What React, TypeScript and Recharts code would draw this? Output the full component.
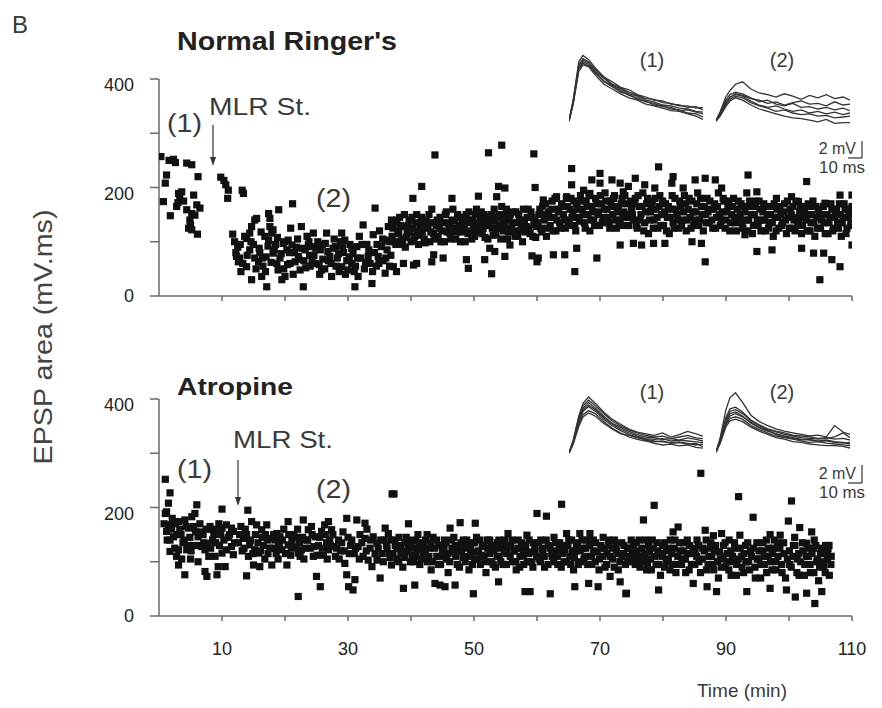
import React from 'react';
import { ScatterChart, Scatter, XAxis, YAxis, LineChart, Line } from 'recharts';

const FONT = '"Liberation Sans", Arial, Helvetica, sans-serif';

// ---------- Normal Ringer's: EPSP area (mV.ms) vs time (min), [t, v] ----------
const NR_BEFORE: number[][] = [
  [0.3,257],[0.7,174],[1.0,208],[1.2,223],[1.6,250],[1.8,148],[2.3,252],[2.6,246],[2.8,165],[3.1,189],
  [3.3,180],[3.6,192],[3.9,175],[4.4,245],[4.4,159],[4.7,125],[4.9,140],[5.2,242],[5.2,122],[5.2,152],
  [5.5,186],[5.7,149],[6.0,168],[6.1,114],[6.2,220],[6.5,162],[3.0,172],[5.0,132],
];
const NR_AFTER: number[][] = [
  [9.8,219],[10.3,213],[10.6,205],[11.0,195],[10.9,180],[13.2,195],[13.4,189],
];
const NR_DEPRESSED: number[][] = [
  [11.7,114],[12.3,73],[12.6,63],[12.8,70],[13.6,110],[13.9,106],[14.4,116],[14.7,128],[15.2,140],[13.9,54],
  [14.4,85],[15.2,70],[15.8,63],[14.7,30],[15.5,143],[16.3,36],[17.1,17],[16.8,110],[17.4,103],[17.9,116],
  [17.4,152],[17.6,143],[17.6,128],[18.1,122],[18.1,79],[18.7,60],[19.0,159],[19.5,30],[20.0,36],[19.7,97],
  [20.5,103],[21.1,94],[21.2,170],[22.6,128],[21.6,63],[22.1,73],[22.9,17],[23.2,85],[23.7,94],[24.2,91],
  [24.5,116],[24.8,60],[25.8,48],[25.6,85],[26.4,97],[26.6,116],[27.1,73],[27.4,36],[28.0,91],[29.0,116],
  [29.5,103],[29.0,54],[30.0,48],[30.6,60],[31.1,17],[31.4,91],[31.6,36],[32.4,131],[33.2,73],[33.8,23],
  [34.0,113],[34.3,162],[34.8,73],[35.3,91],[35.9,103],[35.9,42],[36.4,128],[36.9,140],
  [15.0,95],[16.0,80],[16.5,55],[17.0,72],[18.5,95],[19.2,70],[19.8,50],[20.3,85],[20.8,60],[21.5,80],
  [22.0,105],[22.4,48],[23.0,65],[23.5,110],[24.0,55],[24.6,75],[25.2,100],[25.5,40],[26.0,68],[26.8,82],
  [27.3,60],[27.8,105],[28.3,70],[28.6,45],[29.3,80],[29.8,65],[30.3,95],[30.8,78],[31.2,55],[32.0,70],
  [32.6,50],[33.0,95],[33.5,60],[34.5,55],[35.0,120],[35.6,65],[36.2,85],[36.6,55],[12.0,100],[12.5,90],
  [13.0,45],[16.2,118],[18.8,108],[20.9,125],[23.9,75],[28.8,100],[31.8,110],[34.6,95],
];
const NR_DEPRESSED_DENSE: number[][] = [
  [12.2,80],[12.9,95],[13.3,60],[14.0,75],[14.6,100],[15.4,50],[15.9,88],[16.4,70],[16.9,45],[17.3,92],
  [17.8,62],[18.3,85],[18.9,48],[19.4,78],[19.9,100],[20.4,58],[20.7,80],[21.3,40],[21.8,90],[22.2,68],
  [22.7,88],[23.3,52],[23.8,100],[24.3,66],[24.9,88],[25.4,58],[25.9,95],[26.3,50],[26.9,65],[27.6,88],
  [28.1,55],[28.5,78],[29.1,92],[29.6,40],[30.2,72],[30.6,88],[31.0,45],[31.5,70],[32.2,95],[32.8,62],
  [33.3,85],[33.9,45],[34.2,80],[34.9,60],[35.5,105],[36.0,70],[36.5,100],[36.8,75],
];
const NR_RECOVERY: number[][] = [
  [37.0,110],[37.3,135],[37.6,95],[37.9,120],[38.2,145],[38.5,105],[38.8,128],[39.1,90],[39.4,115],[39.7,140],
  [40.0,100],[40.3,125],[40.6,110],[40.9,150],[41.2,95],[41.5,132],[41.8,118],[42.1,105],[42.4,140],[42.7,125],
  [43.0,100],[43.3,160],[43.6,115],[37.2,54],[37.7,45],[38.8,60],[40.4,57],[40.9,60],[43.6,76],[45.1,70],
  [43.3,63],[41.7,202],[40.3,180],[43.8,260],
  [44.0,130],[44.3,110],[44.6,145],[44.9,120],[45.3,100],[45.6,155],[45.9,135],[46.2,115],[46.5,140],[46.8,125],
  [47.1,105],[47.4,150],[47.7,130],[48.0,118],[48.3,145],[48.6,100],[48.9,135],[49.2,155],[49.5,120],[49.8,140],
  [50.1,110],[50.4,160],[50.7,130],[51.0,145],[51.3,115],[51.6,150],[51.9,135],[52.2,105],[46.5,180],[50.7,184],
  [48.8,67],[49.1,51],[51.7,67],[52.5,88],[53.3,82],[52.8,41],[52.3,264],
  [52.6,140],[52.9,125],[53.2,160],[53.5,115],[53.8,145],[54.1,130],[54.4,165],[54.7,120],[55.0,150],[55.3,105],
  [55.6,140],[55.9,125],[56.2,155],[56.5,110],[56.8,135],[57.1,150],[57.4,120],[57.7,100],[58.0,140],[58.3,128],
  [58.6,160],[58.9,115],[59.2,145],[59.5,132],[59.8,108],[53.9,202],[54.9,199],[53.6,183],[54.4,278],[54.9,73],
  [55.7,94],[59.2,74],[60.0,63],[60.2,70],[59.5,262],[59.7,200],
];
const NR_RECOVERY_DENSE: number[][] = [
  [37.15,125],[37.45,100],[37.75,140],[38.05,115],[38.35,130],[38.65,95],[38.95,150],[39.25,108],[39.55,130],[39.85,118],
  [40.15,145],[40.45,102],[40.75,135],[41.05,120],[41.35,112],[41.65,145],[41.95,128],[42.25,98],[42.55,132],[42.85,150],
  [43.15,118],[43.45,135],[43.75,105],[44.15,140],[44.45,125],[44.75,100],[45.05,135],[45.45,150],[45.75,118],[46.05,130],
  [46.35,105],[46.65,160],[46.95,138],[47.25,118],[47.55,145],[47.85,100],[48.15,135],[48.45,125],[48.75,150],[49.05,115],
  [49.35,140],[49.65,105],[49.95,128],[50.25,150],[50.55,118],[50.85,135],[51.15,155],[51.45,125],[51.75,108],[52.05,145],
  [52.35,130],[52.75,150],[53.05,112],[53.35,138],[53.65,125],[53.95,150],[54.25,105],[54.55,140],[54.85,128],[55.15,160],
  [55.45,118],[55.75,150],[56.05,135],[56.35,120],[56.65,155],[56.95,110],[57.25,140],[57.55,130],[57.85,160],[58.15,118],
  [58.45,145],[58.75,125],[59.05,155],[59.35,110],[59.65,140],[59.95,128],
];
const NR_LATE: number[][] = [
  [60.3,150],[60.6,125],[60.9,165],[61.2,140],[61.5,110],[61.8,155],[62.1,130],[62.4,175],[62.7,145],[63.0,120],
  [63.3,160],[63.6,135],[63.9,170],[64.2,150],[64.5,125],[64.8,165],[65.1,140],[65.4,180],[65.7,155],[66.0,130],
  [66.3,170],[66.6,145],[66.9,185],[67.2,160],[67.5,135],[67.8,175],[68.1,150],[68.4,120],[68.7,165],[69.0,140],
  [69.3,180],[69.6,155],[69.9,130],[70.2,170],[70.5,145],[70.8,190],[71.1,160],[71.4,135],[71.7,175],[72.0,150],
  [72.3,185],[72.6,125],[72.9,165],[73.2,140],[73.5,180],[73.8,155],[74.1,130],[74.4,170],[74.7,145],
  [61.0,177],[63.1,183],[64.7,183],[65.5,235],[65.5,205],[67.4,195],[68.4,189],[68.7,214],[70.0,226],[70.0,208],
  [71.9,214],[73.2,208],[73.7,192],[74.5,202],[62.6,76],[64.4,76],[66.3,88],[66.0,45],[69.5,70],[73.2,94],
];
const NR_LATE_DENSE: number[][] = [
  [60.15,135],[60.45,160],[60.75,118],[61.05,150],[61.35,170],[61.65,125],[61.95,145],[62.25,160],[62.55,120],[62.85,180],
  [63.15,140],[63.45,155],[63.75,125],[64.05,165],[64.35,140],[64.65,180],[64.95,130],[65.25,160],[65.55,145],[65.85,175],
  [66.15,120],[66.45,160],[66.75,138],[67.05,175],[67.35,150],[67.65,125],[67.95,165],[68.25,185],[68.55,140],[68.85,155],
  [69.15,130],[69.45,170],[69.75,150],[70.05,185],[70.35,135],[70.65,160],[70.95,175],[71.25,145],[71.55,125],[71.85,165],
  [72.15,180],[72.45,140],[72.75,155],[73.05,130],[73.35,170],[73.65,145],[73.95,185],[74.25,150],[74.55,130],[74.85,175],
];
const NR_END: number[][] = [
  [75.0,160],[75.3,140],[75.6,180],[75.9,125],[76.2,165],[76.5,150],[76.8,190],[77.1,135],[77.4,170],[77.7,115],
  [78.0,155],[78.3,175],[78.6,140],[78.9,160],[79.2,125],[79.5,185],[79.8,150],[80.1,130],[80.4,170],[80.7,145],
  [81.0,115],[81.3,160],[81.6,135],[81.9,180],[82.2,150],[82.5,125],[82.8,165],[83.1,140],[83.4,185],[83.7,120],
  [84.0,160],[84.3,145],[84.6,175],[84.9,130],[85.2,155],[85.5,190],[85.8,140],[86.1,165],[86.4,120],[86.7,150],
  [87.0,180],[87.3,135],[87.6,160],[87.9,125],[88.2,170],[88.5,145],[88.8,190],[89.1,130],[89.4,155],[89.7,175],
  [90.0,140],[90.3,165],[90.6,120],[90.9,150],[91.2,180],[91.5,135],[91.8,160],[92.1,145],[92.4,170],[92.7,125],
  [93.0,155],[93.3,190],[93.6,140],[93.9,165],[94.2,115],[94.5,150],[94.8,175],[95.1,130],[95.4,160],[95.7,140],
  [96.0,170],[96.3,120],[96.6,150],[96.9,135],[97.2,165],[97.5,110],[97.8,145],[98.1,160],[98.4,125],[98.7,150],
  [99.0,135],[99.3,170],[99.6,115],[99.9,145],[100.2,160],[100.5,125],[100.8,140],[101.1,175],[101.4,130],[101.7,155],
  [102.0,115],[102.3,145],[102.6,165],[102.9,120],[103.2,150],[103.5,135],[103.8,175],[104.1,110],[104.4,145],[104.7,160],
  [105.0,125],[105.3,150],[105.6,135],[105.9,170],[106.2,115],[106.5,145],[106.8,160],[107.1,125],[107.4,150],[107.7,135],
  [108.0,170],[108.3,110],[108.6,145],[108.9,160],[109.2,125],[109.5,150],[109.8,135],[110.0,165],
  [79.3,238],[75.6,217],[77.1,205],[78.7,199],[81.4,208],[81.6,220],[83.2,199],[85.1,214],[86.7,217],[88.3,214],
  [89.3,199],[93.5,223],[94.9,192],[98.0,180],[102.8,211],[100.4,183],[101.5,174],[103.6,165],[105.7,171],[108.1,186],
  [110.0,186],[75.3,97],[76.6,94],[78.5,97],[80.3,97],[84.6,100],[86.1,97],[86.7,63],[93.0,113],[94.9,82],
  [97.3,85],[102.0,88],[103.9,79],[105.5,79],[106.8,67],[108.1,54],[104.9,30],[110.0,94],
];
const NR_END_DENSE: number[][] = [
  [75.15,150],[75.45,170],[75.75,130],[76.05,185],[76.35,140],[76.65,165],[76.95,120],[77.25,155],[77.55,180],[77.85,140],
  [78.15,165],[78.45,125],[78.75,180],[79.05,145],[79.35,165],[79.65,130],[79.95,175],[80.25,155],[80.55,120],[80.85,165],
  [81.15,145],[81.45,185],[81.75,125],[82.05,160],[82.35,140],[82.65,175],[82.95,130],[83.25,155],[83.55,170],[83.85,140],
  [84.15,180],[84.45,125],[84.75,155],[85.05,140],[85.35,170],[85.65,130],[85.95,180],[86.25,150],[86.55,165],[86.85,135],
  [87.15,155],[87.45,175],[87.75,140],[88.05,160],[88.35,125],[88.65,165],[88.95,150],[89.25,140],[89.55,180],[89.85,125],
  [90.15,155],[90.45,175],[90.75,135],[91.05,165],[91.35,145],[91.65,120],[91.95,175],[92.25,150],[92.55,135],[92.85,165],
  [93.15,140],[93.45,120],[93.75,175],[94.05,150],[94.35,130],[94.65,165],[94.95,140],[95.25,175],[95.55,120],[95.85,155],
  [96.15,140],[96.45,165],[96.75,125],[97.05,150],[97.35,135],[97.65,170],[97.95,120],[98.25,145],[98.55,165],[98.85,130],
  [99.15,155],[99.45,140],[99.75,175],[100.05,125],[100.35,150],[100.65,165],[100.95,120],[101.25,145],[101.55,135],[101.85,165],
  [102.15,130],[102.45,155],[102.75,140],[103.05,170],[103.35,120],[103.65,150],[103.95,135],[104.25,165],[104.55,125],[104.85,150],
  [105.15,140],[105.45,165],[105.75,115],[106.05,150],[106.35,135],[106.65,170],[106.95,120],[107.25,145],[107.55,160],[107.85,125],
  [108.15,150],[108.45,135],[108.75,170],[109.05,115],[109.35,145],[109.65,160],[109.95,130],
];

// ---------- Atropine ----------
const AT_BEFORE: number[][] = [
  [1.0,252],[1.75,227],[1.5,208],[1.2,192],[1.0,189],[1.5,168],[1.2,156],[2.3,146],[1.75,140],[1.75,119],
  [3.1,122],[4.4,122],[3.1,94],[4.1,76],[3.1,174],[4.1,177],[4.7,162],[5.2,183],[5.7,189],[6.0,205],
  [6.2,146],[6.8,128],[7.3,122],[7.8,134],[6.2,100],[7.3,82],[7.6,73],[8.1,165],[9.2,159],[10.0,162],
  [10.7,168],[11.8,156],[8.9,110],[9.4,91],[9.2,76],[10.5,91],[10.0,116],[10.7,122],[11.5,128],[11.8,113],
  [10.0,197],[2.0,160],[2.6,170],[3.5,150],[3.8,135],[4.9,145],[5.4,130],[5.8,155],[6.5,170],[7.0,150],
  [7.9,110],[8.5,140],[9.6,130],[11.0,145],[8.4,160],[2.8,110],[5.0,105],[9.8,150],
  [0.8,170],[1.3,140],[2.1,180],[2.5,125],[2.9,150],[3.3,160],[3.6,105],[4.0,140],[4.3,165],[4.6,130],
  [5.1,120],[5.5,165],[6.4,130],[6.7,155],[7.1,135],[7.5,160],[8.2,125],[8.7,150],[9.0,135],[9.5,170],
  [10.3,140],[11.2,150],[11.5,162],[12.0,135],
];
const AT_EARLY: number[][] = [
  [14.1,195],[13.9,74],[13.4,143],[14.4,131],[15.2,122],[15.8,116],[14.7,174],[15.5,168],[16.3,159],[17.1,168],
  [15.0,94],[16.0,91],[17.9,94],[17.6,143],[18.4,140],[18.7,152],[19.2,146],[19.5,122],[20.5,131],[20.5,174],
  [20.3,94],[21.1,140],[21.6,128],[22.1,116],[22.6,122],[22.1,36],[22.9,177],[23.7,159],[24.2,165],[24.5,110],
  [25.0,73],[25.6,54],[24.8,146],[25.8,156],[26.3,168],[26.9,174],[27.4,159],[26.9,122],[28.0,110],[28.5,140],
  [29.8,180],[29.5,97],[29.8,76],[30.1,54],[30.8,48],[31.1,67],[31.4,177],[32.7,171],[31.6,128],[32.4,110],
  [33.2,103],[33.8,91],[34.6,103],[32.7,143],[34.0,146],[34.6,134],[35.1,70],[35.9,162],[36.4,152],[36.9,94],
  [37.0,225],[12.8,150],[13.2,120],[13.7,160],[14.2,110],[16.6,130],[17.3,115],[18.0,125],[18.9,105],[19.8,160],
  [20.9,112],[21.4,150],[22.3,135],[23.0,105],[23.4,140],[24.0,125],[25.3,130],[26.1,112],[27.1,140],[27.8,128],
  [28.8,120],[29.2,155],[30.4,130],[31.0,115],[31.9,150],[33.5,125],[35.4,115],[35.7,140],[36.2,125],[36.7,108],
  [16.9,150],[19.0,135],[22.0,160],[26.6,135],[30.0,145],[33.0,160],
  [12.6,135],[13.0,165],[13.5,125],[13.9,150],[14.5,140],[14.9,115],[15.3,150],[15.7,135],[16.1,120],[16.4,145],
  [16.8,105],[17.2,140],[17.6,125],[18.2,150],[18.6,115],[19.1,128],[19.6,140],[20.1,115],[20.6,150],[21.0,125],
  [21.8,145],[22.4,110],[22.8,145],[23.2,125],[23.6,140],[24.3,150],[24.6,128],[25.1,112],[25.5,145],[25.9,125],
  [26.4,150],[26.7,105],[27.2,130],[27.6,150],[28.2,125],[28.6,105],[29.0,135],[29.4,120],[30.2,115],[30.6,140],
  [31.2,125],[31.8,105],[32.2,135],[32.9,120],[33.6,140],[34.3,115],[34.8,125],[35.2,140],[35.6,100],[36.1,130],
  [36.5,115],[36.8,140],
];
const AT_MIDDLE: number[][] = [
  [37.3,225],[60.0,189],[61.5,184],[63.9,206],[38.8,51],[40.6,57],[43.8,60],[44.6,57],[45.4,54],[47.0,57],
  [49.9,41],[53.9,63],[58.1,45],[58.9,45],[62.1,41],[66.0,54],[68.2,60],[69.7,54],[71.6,73],[73.2,63],
  [74.1,41],[39.6,170],[46.2,162],[47.8,172],[50.2,171],[55.4,152],[58.4,149],[64.7,152],[66.8,152],[68.4,152],
  [37.5,130],[37.8,105],[38.1,145],[38.4,115],[38.7,90],[39.0,135],[39.3,120],[39.9,100],[40.2,140],[40.5,125],
  [40.8,110],[41.1,150],[41.4,95],[41.7,130],[42.0,115],[42.3,140],[42.6,100],[42.9,125],[43.2,85],[43.5,145],
  [44.1,110],[44.4,130],[44.7,95],[45.0,120],[45.3,140],[45.6,105],[45.9,80],[46.5,125],[46.8,145],[47.1,110],
  [47.4,130],[47.7,90],[48.0,120],[48.3,140],[48.6,100],[48.9,125],[49.2,85],[49.5,115],[49.8,135],[50.1,105],
  [50.4,145],[50.7,120],[51.0,95],[51.3,130],[51.6,110],[51.9,80],[52.2,125],[52.5,140],[52.8,100],[53.1,120],
  [53.4,90],[53.7,135],[54.0,110],[54.3,125],[54.6,95],[54.9,140],[55.2,115],[55.8,130],[56.1,100],[56.4,120],
  [56.7,85],[57.0,140],[57.3,110],[57.6,125],[57.9,95],[58.2,130],[58.7,115],[59.1,100],[59.4,135],[59.7,120],
  [60.3,105],[60.6,140],[60.9,115],[61.2,90],[61.8,130],[62.4,110],[62.7,145],[63.0,120],[63.3,95],[63.6,135],
  [64.0,115],[64.3,100],[64.9,130],[65.2,110],[65.5,140],[65.8,85],[66.1,120],[66.4,135],[67.0,100],[67.3,125],
  [67.6,110],[67.9,140],[68.7,95],[69.0,120],[69.3,135],[69.9,105],[70.2,125],[70.5,145],[70.8,90],[71.1,115],
  [71.4,130],[72.0,105],[72.3,140],[72.6,120],[72.9,85],[73.5,110],[73.8,130],[74.4,100],[74.7,125],
];
const AT_MIDDLE_DENSE: number[][] = [
  [37.15,115],[37.45,140],[37.75,125],[38.05,100],[38.35,130],[38.65,118],[38.95,108],[39.25,145],[39.55,125],[39.85,135],
  [40.15,112],[40.45,100],[40.75,138],[41.05,122],[41.35,135],[41.65,105],[41.95,128],[42.25,120],[42.55,150],[42.85,110],
  [43.15,135],[43.45,100],[43.75,125],[44.05,140],[44.35,95],[44.65,130],[44.95,110],[45.25,125],[45.55,135],[45.85,115],
  [46.15,100],[46.45,140],[46.75,118],[47.05,130],[47.35,95],[47.65,120],[47.95,135],[48.25,108],[48.55,128],[48.85,140],
  [49.15,110],[49.45,128],[49.75,95],[50.05,135],[50.35,118],[50.65,105],[50.95,140],[51.25,112],[51.55,128],[51.85,100],
  [52.15,140],[52.45,115],[52.75,130],[53.05,95],[53.35,125],[53.65,110],[53.95,140],[54.25,100],[54.55,130],[54.85,118],
  [55.15,95],[55.45,128],[55.75,110],[56.05,140],[56.35,120],[56.65,100],[56.95,125],[57.25,90],[57.55,135],[57.85,112],
  [58.15,125],[58.45,100],[58.75,140],[59.05,118],[59.35,90],[59.65,128],[59.95,110],[60.25,135],[60.55,100],[60.85,125],
  [61.15,110],[61.45,140],[61.75,95],[62.05,125],[62.35,115],[62.65,100],[62.95,135],[63.25,110],[63.55,125],[63.85,90],
  [64.15,130],[64.45,118],[64.75,100],[65.05,140],[65.35,95],[65.65,120],[65.95,108],[66.25,132],[66.55,95],[66.85,120],
  [67.15,140],[67.45,105],[67.75,125],[68.05,95],[68.35,130],[68.65,110],[68.95,140],[69.25,100],[69.55,118],[69.85,85],
  [70.15,130],[70.45,110],[70.75,125],[71.05,95],[71.35,140],[71.65,110],[71.95,125],[72.25,90],[72.55,130],[72.85,115],
  [73.15,100],[73.45,135],[73.75,115],[74.05,95],[74.35,125],[74.65,110],[74.95,140],
];
const AT_LATE: number[][] = [
  [78.6,204],[76.9,177],[86.0,263],[92.0,220],[94.3,182],[100.4,212],[99.9,175],[101.7,163],[103.6,155],[82.4,164],
  [81.6,155],[86.7,158],[89.3,152],[92.2,149],[98.6,149],[102.8,134],[106.2,124],[74.2,42],[79.3,48],[84.8,60],
  [87.0,54],[88.5,45],[93.3,45],[97.0,51],[99.6,48],[101.0,35],[102.8,42],[105.2,45],[104.1,23],
  [75.0,110],[75.3,130],[75.6,95],[75.9,120],[76.2,140],[76.5,100],[77.1,115],[77.4,85],[77.7,130],[78.0,105],
  [78.3,140],[78.9,95],[79.2,120],[79.6,75],[79.9,110],[80.2,135],[80.5,100],[80.8,125],[81.1,85],[81.4,115],
  [81.9,140],[82.1,95],[82.7,120],[83.0,105],[83.3,135],[83.6,80],[83.9,115],[84.2,130],[84.5,95],[85.1,120],
  [85.4,140],[85.7,100],[86.3,125],[86.9,85],[87.3,110],[87.6,135],[87.9,95],[88.2,120],[88.8,70],[89.1,105],
  [89.6,130],[89.9,90],[90.2,115],[90.5,140],[90.8,75],[91.1,100],[91.4,125],[91.7,95],[92.5,110],[92.8,80],
  [93.1,130],[93.6,100],[93.9,120],[94.6,90],[94.9,135],[95.2,105],[95.5,70],[95.8,120],[96.1,95],[96.4,140],
  [96.7,110],[97.3,85],[97.6,125],[97.9,100],[98.2,135],[98.9,80],[99.2,115],[100.1,95],[100.7,130],[101.3,105],
  [101.6,75],[102.2,120],[102.5,95],[103.1,110],[103.4,80],[103.9,125],[104.4,100],[104.7,65],[105.0,115],[105.5,90],
  [105.8,130],[106.1,105],[106.4,75],[106.7,110],[104.0,140],[100.9,145],[97.0,150],[88.0,148],
];
const AT_LATE_DENSE: number[][] = [
  [75.15,120],[75.45,100],[75.75,135],[76.05,110],[76.35,90],[76.65,125],[76.95,105],[77.25,140],[77.55,95],[77.85,118],
  [78.15,85],[78.45,125],[78.75,110],[79.05,135],[79.35,95],[79.65,115],[79.95,130],[80.25,90],[80.55,120],[80.85,105],
  [81.15,140],[81.45,95],[81.75,125],[82.05,80],[82.35,110],[82.65,135],[82.95,95],[83.25,120],[83.55,105],[83.85,140],
  [84.15,85],[84.45,115],[84.75,125],[85.05,95],[85.35,110],[85.65,130],[85.95,80],[86.25,105],[86.55,120],[86.85,140],
  [87.15,95],[87.45,125],[87.75,110],[88.05,85],[88.35,130],[88.65,100],[88.95,118],[89.25,90],[89.55,110],[89.85,135],
  [90.15,100],[90.45,85],[90.75,120],[91.05,110],[91.35,135],[91.65,75],[91.95,105],[92.25,125],[92.55,90],[92.85,115],
  [93.15,100],[93.45,135],[93.75,85],[94.05,110],[94.35,125],[94.65,70],[94.95,105],[95.25,120],[95.55,95],[95.85,135],
  [96.15,110],[96.45,80],[96.75,125],[97.05,100],[97.35,115],[97.65,140],[97.95,85],[98.25,110],[98.55,125],[98.85,95],
  [99.15,135],[99.45,70],[99.75,105],[100.05,120],[100.35,90],[100.65,110],[100.95,130],[101.25,80],[101.55,115],[101.85,100],
  [102.15,135],[102.45,75],[102.75,110],[103.05,125],[103.35,95],[103.65,115],[103.95,80],[104.25,130],[104.55,105],[104.85,90],
  [105.15,125],[105.45,100],[105.75,80],[106.05,115],[106.35,130],[106.65,95],
];

// ---------- axes ----------
const X_TICKS = [10, 20, 30, 40, 50, 60, 70, 80, 90, 100, 110];
const X_LABELS = [10, 30, 50, 70, 90, 110];
const Y_TICKS = [0, 100, 200, 300, 400];
const Y_LABELS = [0, 200, 400];

// ---------- inset EPSP traces (ms, mV) ----------
const INSET_MS = [0, 3, 7, 10, 14, 19, 25, 31, 37, 43, 49, 55, 61, 67, 73, 79, 85, 91, 96];
const NR_TRACES_1: number[][] = [
  [0, 2.6, 7.4, 8.2, 7.7, 6.6, 5.5, 4.9, 4.2, 3.9, 3.3, 3.0, 2.6, 2.5, 2.1, 2.0, 1.7, 1.8, 1.4],
  [0, 2.4, 7.0, 7.8, 7.4, 6.2, 5.3, 4.5, 4.0, 3.4, 3.1, 2.6, 2.4, 2.0, 1.9, 1.6, 1.5, 1.2, 1.1],
  [0, 2.2, 6.6, 7.4, 7.1, 6.0, 4.9, 4.3, 3.6, 3.3, 2.7, 2.5, 2.0, 1.9, 1.5, 1.4, 1.0, 0.9, 0.5],
  [0, 2.5, 6.9, 7.6, 7.3, 6.4, 5.5, 4.6, 4.1, 3.6, 3.2, 2.8, 2.7, 2.3, 2.2, 1.9, 1.9, 1.6, 1.7],
  [0, 2.1, 6.2, 7.0, 6.8, 5.7, 4.6, 4.0, 3.4, 2.9, 2.6, 2.1, 1.9, 1.6, 1.3, 1.2, 0.9, 0.6, 0.2],
  [0, 2.3, 6.5, 7.2, 6.9, 6.0, 5.0, 4.4, 3.8, 3.2, 2.9, 2.4, 2.2, 1.8, 1.7, 1.3, 1.4, 1.1, 0.9],
];
const NR_TRACES_2: number[][] = [
  [0, 1.2, 3.0, 3.8, 4.6, 4.9, 4.0, 3.5, 3.3, 3.0, 3.4, 3.1, 2.7, 3.2, 2.9, 3.3, 2.8, 3.0, 2.6],
  [0, 1.0, 2.6, 3.3, 3.6, 3.4, 2.9, 2.4, 2.6, 2.1, 1.9, 2.2, 1.7, 1.8, 1.5, 1.7, 1.4, 1.6, 1.3],
  [0, 0.8, 2.2, 3.0, 3.3, 3.1, 2.5, 2.0, 1.7, 1.9, 1.5, 1.2, 1.4, 1.0, 1.2, 0.9, 1.1, 0.8, 1.0],
  [0, 0.9, 2.4, 2.9, 3.4, 3.2, 2.8, 2.6, 2.2, 2.4, 2.0, 2.3, 2.5, 2.1, 2.2, 1.9, 2.4, 2.0, 2.1],
  [0, 0.6, 1.8, 2.5, 2.9, 2.6, 2.0, 1.5, 1.2, 0.9, 0.6, 0.4, 0.3, 0.1, -0.1, 0.2, -0.3, -0.2, -0.2],
  [0, 0.7, 2.0, 2.7, 3.1, 2.9, 2.3, 1.9, 1.6, 1.2, 1.4, 1.0, 0.8, 0.9, 0.6, 0.7, 0.4, 0.5, 0.6],
];
const AT_TRACES_1: number[][] = [
  [0, 1.6, 4.6, 6.2, 7.0, 6.2, 5.1, 4.2, 3.6, 3.0, 2.6, 2.4, 2.2, 2.5, 2.0, 2.3, 2.7, 2.4, 2.1],
  [0, 1.4, 4.2, 5.6, 6.3, 5.6, 4.6, 3.7, 3.2, 2.7, 2.3, 2.0, 1.9, 1.7, 1.8, 1.6, 1.9, 1.7, 1.5],
  [0, 1.3, 3.9, 5.2, 5.8, 5.2, 4.2, 3.4, 2.8, 2.3, 2.0, 1.6, 1.4, 1.5, 1.2, 1.3, 1.1, 1.2, 0.8],
  [0, 1.2, 3.6, 4.8, 5.3, 4.9, 3.9, 3.1, 2.5, 2.0, 1.7, 1.5, 1.2, 1.0, 1.1, 0.9, 1.0, 0.7, 0.6],
  [0, 1.5, 4.4, 5.9, 6.6, 5.9, 4.9, 4.0, 3.4, 2.9, 2.5, 2.2, 2.0, 2.1, 1.8, 2.0, 2.2, 1.9, 1.8],
  [0, 1.1, 3.3, 4.5, 5.0, 4.6, 3.7, 3.0, 2.4, 2.2, 1.9, 1.7, 1.5, 1.4, 1.3, 1.4, 1.2, 1.0, 1.1],
  [0, 1.3, 4.0, 5.4, 6.0, 5.4, 4.4, 3.6, 3.0, 2.5, 2.1, 1.8, 1.7, 1.8, 1.5, 1.6, 1.5, 1.4, 1.3],
];
const AT_TRACES_2: number[][] = [
  [0, 1.8, 5.2, 6.8, 7.4, 6.2, 4.6, 3.8, 3.3, 2.9, 2.6, 2.4, 2.2, 2.0, 2.1, 1.9, 3.3, 2.5, 2.2],
  [0, 1.5, 4.3, 5.4, 5.6, 5.0, 4.0, 3.4, 2.9, 2.6, 2.4, 2.1, 2.0, 1.9, 1.7, 1.8, 1.6, 1.7, 1.5],
  [0, 1.3, 3.8, 4.8, 5.0, 4.5, 3.6, 3.0, 2.6, 2.3, 2.0, 1.8, 1.6, 1.5, 1.4, 1.5, 1.3, 1.2, 1.0],
  [0, 1.2, 3.4, 4.2, 4.4, 4.1, 3.3, 2.8, 2.4, 2.0, 1.8, 1.6, 1.4, 1.2, 1.3, 1.1, 1.0, 0.9, 0.8],
  [0, 1.4, 4.0, 5.1, 5.3, 4.8, 3.9, 3.3, 2.8, 2.5, 2.2, 2.0, 1.8, 1.7, 1.6, 1.7, 1.9, 2.4, 1.8],
  [0, 1.1, 3.1, 3.9, 4.1, 3.8, 3.1, 2.6, 2.2, 1.8, 1.6, 1.3, 1.2, 1.0, 0.9, 0.8, 0.8, 0.7, 0.5],
  [0, 1.3, 3.6, 4.5, 4.8, 4.4, 3.7, 3.1, 2.7, 2.2, 1.9, 1.7, 1.5, 1.6, 1.3, 1.4, 1.2, 1.1, 1.2],
];

const toPoints = (...parts: number[][][]) => parts.flat().map(([t, v]) => ({ t, v }));
const NR_DATA = toPoints(
  NR_BEFORE, NR_AFTER, NR_DEPRESSED, NR_DEPRESSED_DENSE, NR_RECOVERY, NR_RECOVERY_DENSE,
  NR_LATE, NR_LATE_DENSE, NR_END, NR_END_DENSE,
);
const AT_DATA = toPoints(AT_BEFORE, AT_EARLY, AT_MIDDLE, AT_MIDDLE_DENSE, AT_LATE, AT_LATE_DENSE);

const AXIS = '#6a6a6a';

const Square = (p: any) => {
  const { cx, cy } = p;
  if (cx == null || cy == null) return <g />;
  return <rect x={cx - 3.6} y={cy - 3.6} width={7.2} height={7.2} fill="#111" />;
};

const YTick = (p: any) => {
  const { x, y, payload } = p;
  if (!Y_LABELS.includes(payload.value)) return <g />;
  const off = payload.value === 0 ? 0 : 6;
  return (
    <text x={x} y={y + off} textAnchor="end" dominantBaseline="central" fontSize={18} fill="#222" fontFamily={FONT}>
      {payload.value}
    </text>
  );
};

const makeXTick = (show: boolean) => (p: any) => {
  const { x, y, payload } = p;
  if (!show || !X_LABELS.includes(payload.value)) return <g />;
  return (
    <text x={x} y={y + 32} textAnchor="middle" fontSize={18} fill="#222" fontFamily={FONT}>
      {payload.value}
    </text>
  );
};

function Panel({ data, top, height, marginBottom, showX }: any) {
  return (
    <div style={{ position: 'absolute', left: 0, top, width: 882, height }}>
      <ScatterChart width={882} height={height} margin={{ top: 79, right: 30, left: 99, bottom: marginBottom }}>
        <XAxis
          type="number"
          dataKey="t"
          domain={[0, 110]}
          ticks={X_TICKS}
          allowDataOverflow
          height={30}
          tickSize={5}
          axisLine={{ stroke: AXIS, strokeWidth: 1.5 }}
          tickLine={{ stroke: AXIS, strokeWidth: 1.5 }}
          tick={makeXTick(showX)}
        />
        <YAxis
          type="number"
          dataKey="v"
          domain={[0, 400]}
          ticks={Y_TICKS}
          width={60}
          tickSize={9}
          tickMargin={16}
          axisLine={{ stroke: AXIS, strokeWidth: 1.5 }}
          tickLine={{ stroke: AXIS, strokeWidth: 1.5 }}
          tick={<YTick />}
        />
        <Scatter data={data} shape={(p: any) => <Square {...p} />} isAnimationActive={false} />
      </ScatterChart>
    </div>
  );
}

function Inset({ traces, left, top }: any) {
  const rows = INSET_MS.map((ms, i) => {
    const r: any = { ms };
    traces.forEach((tr: number[], k: number) => {
      r['s' + k] = tr[i];
    });
    return r;
  });
  return (
    <div style={{ position: 'absolute', left, top, width: 134, height: 80 }}>
      <LineChart width={134} height={80} data={rows} margin={{ top: 0, right: 0, bottom: 0, left: 0 }}>
        <XAxis dataKey="ms" type="number" domain={[0, 96]} hide />
        <YAxis type="number" domain={[-1, 9]} hide />
        {traces.map((_: any, k: number) => (
          <Line
            key={k}
            dataKey={'s' + k}
            type="linear"
            stroke="#333"
            strokeWidth={1.3}
            dot={false}
            isAnimationActive={false}
          />
        ))}
      </LineChart>
    </div>
  );
}

export default function App() {
  const txt = { fontFamily: FONT, fill: '#3a3a3a' } as any;
  return (
    <div style={{ position: 'absolute', left: 0, top: 0, width: 882, height: 708, background: '#fff', overflow: 'hidden' }}>
      <Panel data={NR_DATA} top={0} height={340} marginBottom={14} showX={false} />
      <Panel data={AT_DATA} top={320} height={388} marginBottom={62} showX={true} />
      <Inset traces={NR_TRACES_1} left={569} top={49} />
      <Inset traces={NR_TRACES_2} left={716} top={49} />
      <Inset traces={AT_TRACES_1} left={569} top={381} />
      <Inset traces={AT_TRACES_2} left={716} top={380} />
      <svg width={882} height={708} style={{ position: 'absolute', left: 0, top: 0, pointerEvents: 'none' }}>
        <text x={12} y={33} fontSize={24} {...txt}>B</text>
        <text x={177} y={50} fontSize={25} fontWeight="bold" textLength={220} lengthAdjust="spacingAndGlyphs" fontFamily={FONT} fill="#222">Normal Ringer's</text>
        <text x={177} y={395} fontSize={24} fontWeight="bold" textLength={116} lengthAdjust="spacingAndGlyphs" fontFamily={FONT} fill="#222">Atropine</text>

        <text x={167} y={132} fontSize={26} textLength={35} lengthAdjust="spacingAndGlyphs" {...txt}>(1)</text>
        <text x={209} y={115} fontSize={24} textLength={102} lengthAdjust="spacingAndGlyphs" {...txt}>MLR St.</text>
        <line x1={213} y1={125} x2={213} y2={160} stroke="#333" strokeWidth={1.2} />
        <polygon points="210,157 216,157 213,166" fill="#333" />
        <text x={316} y={207} fontSize={26} textLength={35} lengthAdjust="spacingAndGlyphs" {...txt}>(2)</text>

        <text x={177} y={478} fontSize={26} textLength={35} lengthAdjust="spacingAndGlyphs" {...txt}>(1)</text>
        <text x={233} y={448} fontSize={24} textLength={100} lengthAdjust="spacingAndGlyphs" {...txt}>MLR St.</text>
        <line x1={238} y1={460} x2={238} y2={499} stroke="#333" strokeWidth={1.2} />
        <polygon points="235,497 241,497 238,506" fill="#333" />
        <text x={316} y={498} fontSize={26} textLength={35} lengthAdjust="spacingAndGlyphs" {...txt}>(2)</text>

        <text x={652} y={67} fontSize={20} textAnchor="middle" {...txt}>(1)</text>
        <text x={782} y={67} fontSize={20} textAnchor="middle" {...txt}>(2)</text>
        <text x={652} y={399} fontSize={20} textAnchor="middle" {...txt}>(1)</text>
        <text x={782} y={399} fontSize={20} textAnchor="middle" {...txt}>(2)</text>

        <text x={856} y={154} fontSize={16} textAnchor="end" {...txt}>2 mV</text>
        <line x1={862} y1={141} x2={862} y2={158} stroke="#333" strokeWidth={1.2} />
        <line x1={848} y1={158} x2={862} y2={158} stroke="#333" strokeWidth={1.2} />
        <text x={819} y={173} fontSize={16} textLength={46} lengthAdjust="spacingAndGlyphs" {...txt}>10 ms</text>

        <text x={856} y={479} fontSize={16} textAnchor="end" {...txt}>2 mV</text>
        <line x1={862} y1={465} x2={862} y2={483} stroke="#333" strokeWidth={1.2} />
        <line x1={848} y1={483} x2={862} y2={483} stroke="#333" strokeWidth={1.2} />
        <text x={819} y={498} fontSize={16} textLength={46} lengthAdjust="spacingAndGlyphs" {...txt}>10 ms</text>

        <text transform="translate(52,337) rotate(-90)" textAnchor="middle" fontSize={26} textLength={255} lengthAdjust="spacingAndGlyphs" {...txt} fill="#444">EPSP area (mV.ms)</text>
        <text x={742} y={697} fontSize={19} textAnchor="middle" {...txt}>Time (min)</text>
      </svg>
    </div>
  );
}
